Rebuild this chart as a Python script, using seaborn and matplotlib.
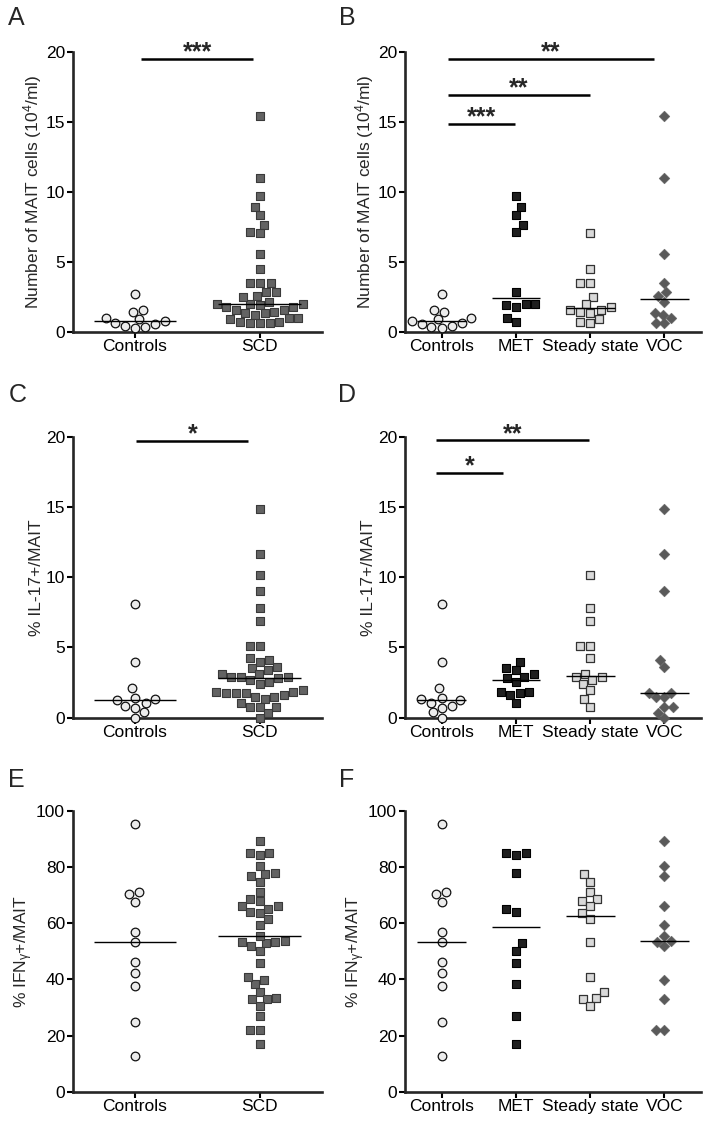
import warnings
import numpy as np
import pandas as pd
import seaborn as sns
from matplotlib import pyplot as plt

warnings.filterwarnings("ignore")

# categories
two_groups = ["Controls", "SCD"]
four_groups = ["Controls", "MET", "Steady state", "VOC"]

# number of MAIT cells (10^4/ml)
mait_controls = [2.69, 1.55, 1.43, 1.0, 0.88, 0.79, 0.64, 0.55, 0.41, 0.31, 0.24]
mait_met = [9.71, 8.93, 8.33, 7.62, 7.14, 2.86, 1.98, 1.98, 1.9, 1.79, 0.95, 0.71]
mait_steady = [7.02, 4.45, 3.45, 3.45, 2.45, 1.98, 1.79, 1.55, 1.55, 1.43, 1.36, 0.88, 0.71, 0.6]
mait_voc = [15.4, 10.95, 5.55, 3.45, 2.86, 2.55, 2.14, 1.31, 1.19, 0.95, 0.6, 0.6]

# % IL-17+ / MAIT
il17_controls = [8.07, 3.99, 2.09, 1.42, 1.3, 1.26, 1.07, 0.83, 0.71, 0.38, 0.0]
il17_met = [4.0, 3.57, 3.38, 3.1, 2.93, 2.86, 2.57, 1.86, 1.86, 1.74, 1.6, 1.07]
il17_steady = [10.19, 7.81, 6.9, 5.12, 5.07, 4.24, 3.1, 2.9, 2.9, 2.67, 2.43, 1.95, 1.31, 0.76]
il17_voc = [14.88, 11.67, 9.05, 4.1, 3.62, 1.79, 1.79, 1.48, 1.48, 0.74, 0.74, 0.36, 0.0]

# % IFNg+ / MAIT
ifng_controls = [95.3, 71.1, 70.5, 67.7, 57.0, 53.4, 46.2, 42.4, 37.6, 24.7, 12.8]
ifng_met = [85.2, 85.2, 84.5, 77.9, 65.1, 64.2, 52.9, 50.2, 45.8, 38.5, 26.9, 17.0]
ifng_steady = [77.7, 74.9, 71.3, 68.7, 67.9, 66.1, 63.6, 61.5, 53.2, 40.9, 35.6, 33.5, 33.1, 30.7]
ifng_voc = [89.4, 80.6, 76.7, 66.3, 59.5, 55.6, 53.8, 53.2, 52.0, 39.7, 32.9, 22.1, 22.1]

# significance bars: (from, to, height, stars)
sig_a = [(0.05, 0.95, 19.5, "***")]
sig_b = [(0.08, 2.86, 19.5, "**"), (0.08, 2.0, 16.9, "**"), (0.08, 0.98, 14.85, "***")]
sig_c = [(0.01, 0.91, 19.7, "*")]
sig_d = [(-0.08, 1.99, 19.75, "**"), (-0.08, 0.83, 17.45, "*")]

styles = {
    "Controls": dict(marker="o", color="#ececec", edgecolor="#111111", linewidth=0.9, size=6.2),
    "SCD": dict(marker="s", color="#636363", edgecolor="#3a3a3a", linewidth=0.8, size=6.0),
    "MET": dict(marker="s", color="#1f1f1f", edgecolor="#000000", linewidth=0.8, size=6.0),
    "Steady state": dict(marker="s", color="#d9d9d9", edgecolor="#333333", linewidth=0.9, size=6.0),
    "VOC": dict(marker="D", color="#5a5a5a", edgecolor="#5a5a5a", linewidth=0.3, size=5.5),
}

sns.set_style("ticks")
plt.rcParams["font.family"] = ["Liberation Sans", "DejaVu Sans"]
plt.rcParams["mathtext.default"] = "regular"


def dot_panel(ax, groups, values, ymax, yticks, ylabel, sigs):
    for i, g in enumerate(groups):
        df = pd.DataFrame({"group": g, "value": values[g]})
        sns.swarmplot(data=df, x="group", y="value", order=groups, ax=ax,
                      clip_on=False, zorder=3, **styles[g])
        ax.hlines(np.median(values[g]), i - 0.33, i + 0.33, color="black",
                  lw=1.0, zorder=4)
    ax.set_xlim(-0.5, len(groups) - 0.5)
    ax.set_ylim(0, ymax)
    ax.set_yticks(yticks)
    ax.set_xlabel("")
    ax.set_ylabel(ylabel, fontsize=12.5, labelpad=0.8)
    sns.despine(ax=ax)
    for side in ["left", "bottom"]:
        ax.spines[side].set_linewidth(1.9)
    ax.tick_params(width=1.5, length=4, pad=1.5, labelsize=12.5, colors="black")
    for x0, x1, y, stars in sigs:
        ax.plot([x0, x1], [y, y], color="black", lw=1.8, clip_on=False,
                solid_capstyle="butt")
        ax.annotate(stars, xy=((x0 + x1) / 2, y), xytext=(0, -0.5),
                    textcoords="offset points", ha="center", va="baseline",
                    fontsize=18, fontweight="bold")


fig = plt.figure(figsize=(7.1, 11.29), dpi=100)
left_l, width_l = 0.1024, 0.351
left_r, width_r = 0.5700, 0.418
rows = [(0.7062, 0.2480), (0.3643, 0.2489), (0.0330, 0.2486)]

ax_a = fig.add_axes([left_l, rows[0][0], width_l, rows[0][1]])
ax_b = fig.add_axes([left_r, rows[0][0], width_r, rows[0][1]])
ax_c = fig.add_axes([left_l, rows[1][0], width_l, rows[1][1]])
ax_d = fig.add_axes([left_r, rows[1][0], width_r, rows[1][1]])
ax_e = fig.add_axes([left_l, rows[2][0], width_l, rows[2][1]])
ax_f = fig.add_axes([left_r, rows[2][0], width_r, rows[2][1]])

mait_label = "Number of MAIT cells (10$^{4}$/ml)"
il17_label = "% IL-17+/MAIT"
ifng_label = "% IFN$_{γ}$+/MAIT"

mait = {"Controls": mait_controls, "MET": mait_met, "Steady state": mait_steady, "VOC": mait_voc,
        "SCD": mait_met + mait_steady + mait_voc}
il17 = {"Controls": il17_controls, "MET": il17_met, "Steady state": il17_steady, "VOC": il17_voc,
        "SCD": il17_met + il17_steady + il17_voc}
ifng = {"Controls": ifng_controls, "MET": ifng_met, "Steady state": ifng_steady, "VOC": ifng_voc,
        "SCD": ifng_met + ifng_steady + ifng_voc}

dot_panel(ax_a, two_groups, mait, 20, [0, 5, 10, 15, 20], mait_label, sig_a)
dot_panel(ax_b, four_groups, mait, 20, [0, 5, 10, 15, 20], mait_label, sig_b)
dot_panel(ax_c, two_groups, il17, 20, [0, 5, 10, 15, 20], il17_label, sig_c)
dot_panel(ax_d, four_groups, il17, 20, [0, 5, 10, 15, 20], il17_label, sig_d)
dot_panel(ax_e, two_groups, ifng, 100, [0, 20, 40, 60, 80, 100], ifng_label, [])
dot_panel(ax_f, four_groups, ifng, 100, [0, 20, 40, 60, 80, 100], ifng_label, [])

# panel letters
for letter, x, y in [("A", 0.011, 0.995), ("B", 0.478, 0.995),
                     ("C", 0.013, 0.661), ("D", 0.476, 0.661),
                     ("E", 0.011, 0.320), ("F", 0.478, 0.320)]:
    fig.text(x, y, letter, fontsize=18, va="top", ha="left")

plt.savefig("out.png", dpi=100)
